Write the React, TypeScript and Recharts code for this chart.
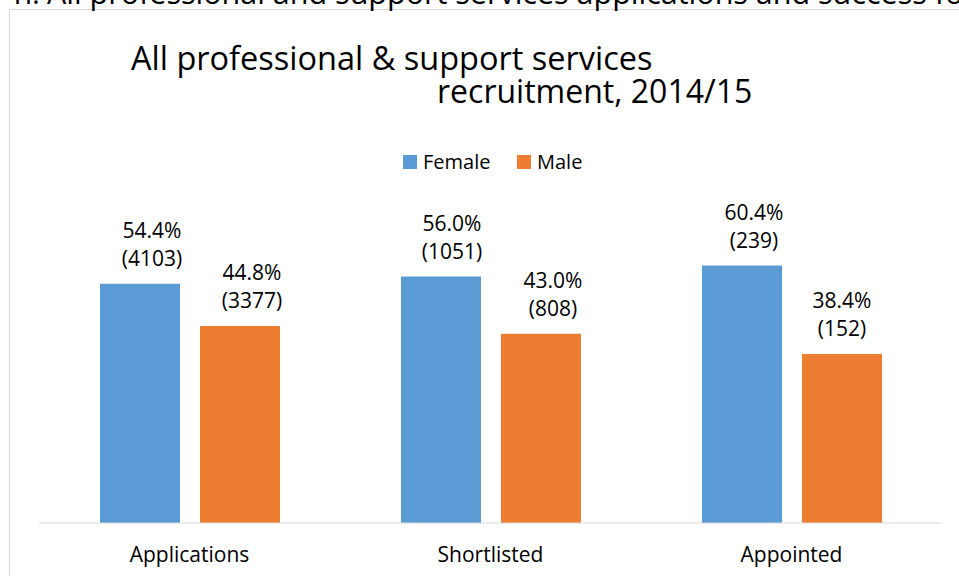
import React from "react";
import { BarChart, Bar, XAxis, YAxis, LabelList, Legend } from "recharts";

const categories = ["Applications", "Shortlisted", "Appointed"];
const femaleValues = [54.4, 56.0, 58.5];
const maleValues = [44.8, 43.0, 38.4];
const femalePct = ["54.4%", "56.0%", "60.4%"];
const femaleCount = ["(4103)", "(1051)", "(239)"];
const malePct = ["44.8%", "43.0%", "38.4%"];
const maleCount = ["(3377)", "(808)", "(152)"];

const femaleShift = [12, 11, 12];
const maleShift = [12, 12, 0];

const data = categories.map((c, i) => ({
  name: c,
  female: femaleValues[i],
  male: maleValues[i],
}));

const BLUE = "#5b9bd5";
const ORANGE = "#ed7d31";
const FONT = "'Open Sans', sans-serif";

const makeLabel = (pct: string[], cnt: string[], shift: number[]) => (props: any) => {
  const { x, y, width, index } = props;
  const cx = Number(x) + Number(width) / 2 + shift[index];
  const top = Number(y);
  return (
    <g>
      <text x={cx} y={top - 46} textAnchor="middle" fontSize={21} fill="#000" fontFamily={FONT}>
        {pct[index]}
      </text>
      <text x={cx} y={top - 18} textAnchor="middle" fontSize={21} fill="#000" fontFamily={FONT}>
        {cnt[index]}
      </text>
    </g>
  );
};

const CatTick = (props: any) => {
  const { x, y, payload } = props;
  return (
    <text x={x} y={Number(y) + 39} textAnchor="middle" fontSize={21} fill="#000" fontFamily={FONT}>
      {payload.value}
    </text>
  );
};

const LegendContent = () => (
  <div style={{ position: "relative", width: 959, height: 0, fontFamily: FONT, fontSize: 20 }}>
    <div style={{ position: "absolute", left: 403, top: 6, width: 14, height: 14, background: BLUE }} />
    <div style={{ position: "absolute", left: 423, top: -1, lineHeight: "28px", color: "#000" }}>Female</div>
    <div style={{ position: "absolute", left: 517, top: 6, width: 14, height: 14, background: ORANGE }} />
    <div style={{ position: "absolute", left: 537, top: -1, lineHeight: "28px", color: "#000" }}>Male</div>
  </div>
);

export default function App() {
  return (
    <div
      style={{
        position: "fixed",
        left: 0,
        top: 0,
        width: 959,
        height: 576,
        overflow: "hidden",
        background: "#fff",
        fontFamily: FONT,
      }}
    >
      <div
        style={{
          position: "absolute",
          left: 9,
          top: 9,
          width: 1000,
          height: 700,
          border: "1px solid #d9d9d9",
          boxSizing: "border-box",
        }}
      />
      <svg width={959} height={120} style={{ position: "absolute", left: 0, top: 0 }}>
        <text x={40} y={4} textAnchor="end" fontSize={30} fill="#000" fontFamily={FONT}>
          n:
        </text>
        <text x={47} y={4} fontSize={30.5} fill="#000" fontFamily={FONT}>
          All professional and support services applications and success for
        </text>
        <text x={131} y={70} fontSize={32.5} fill="#000" fontFamily={FONT}>
          All professional &amp; support services
        </text>
        <text x={437} y={103} fontSize={32} fill="#000" fontFamily={FONT}>
          recruitment, 2014/15
        </text>
      </svg>
      <div style={{ position: "absolute", left: 0, top: 0 }}>
        <BarChart
          width={959}
          height={576}
          data={data}
          margin={{ top: 215, right: 17, bottom: 0, left: 39 }}
          barGap={20}
        >
          <XAxis
            dataKey="name"
            height={53}
            axisLine={{ stroke: "#d9d9d9", strokeWidth: 1 }}
            tickLine={false}
            tickSize={0}
            tickMargin={0}
            tick={<CatTick />}
            interval={0}
          />
          <YAxis hide width={0} domain={[0, 70]} />
          <Legend
            verticalAlign="top"
            align="left"
            content={<LegendContent />}
            wrapperStyle={{ position: "absolute", top: 149, left: 0, width: 959, height: 0 }}
          />
          <Bar dataKey="female" fill={BLUE} barSize={80} isAnimationActive={false}>
            <LabelList dataKey="female" content={makeLabel(femalePct, femaleCount, femaleShift)} />
          </Bar>
          <Bar dataKey="male" fill={ORANGE} barSize={80} isAnimationActive={false}>
            <LabelList dataKey="male" content={makeLabel(malePct, maleCount, maleShift)} />
          </Bar>
        </BarChart>
      </div>
    </div>
  );
}
